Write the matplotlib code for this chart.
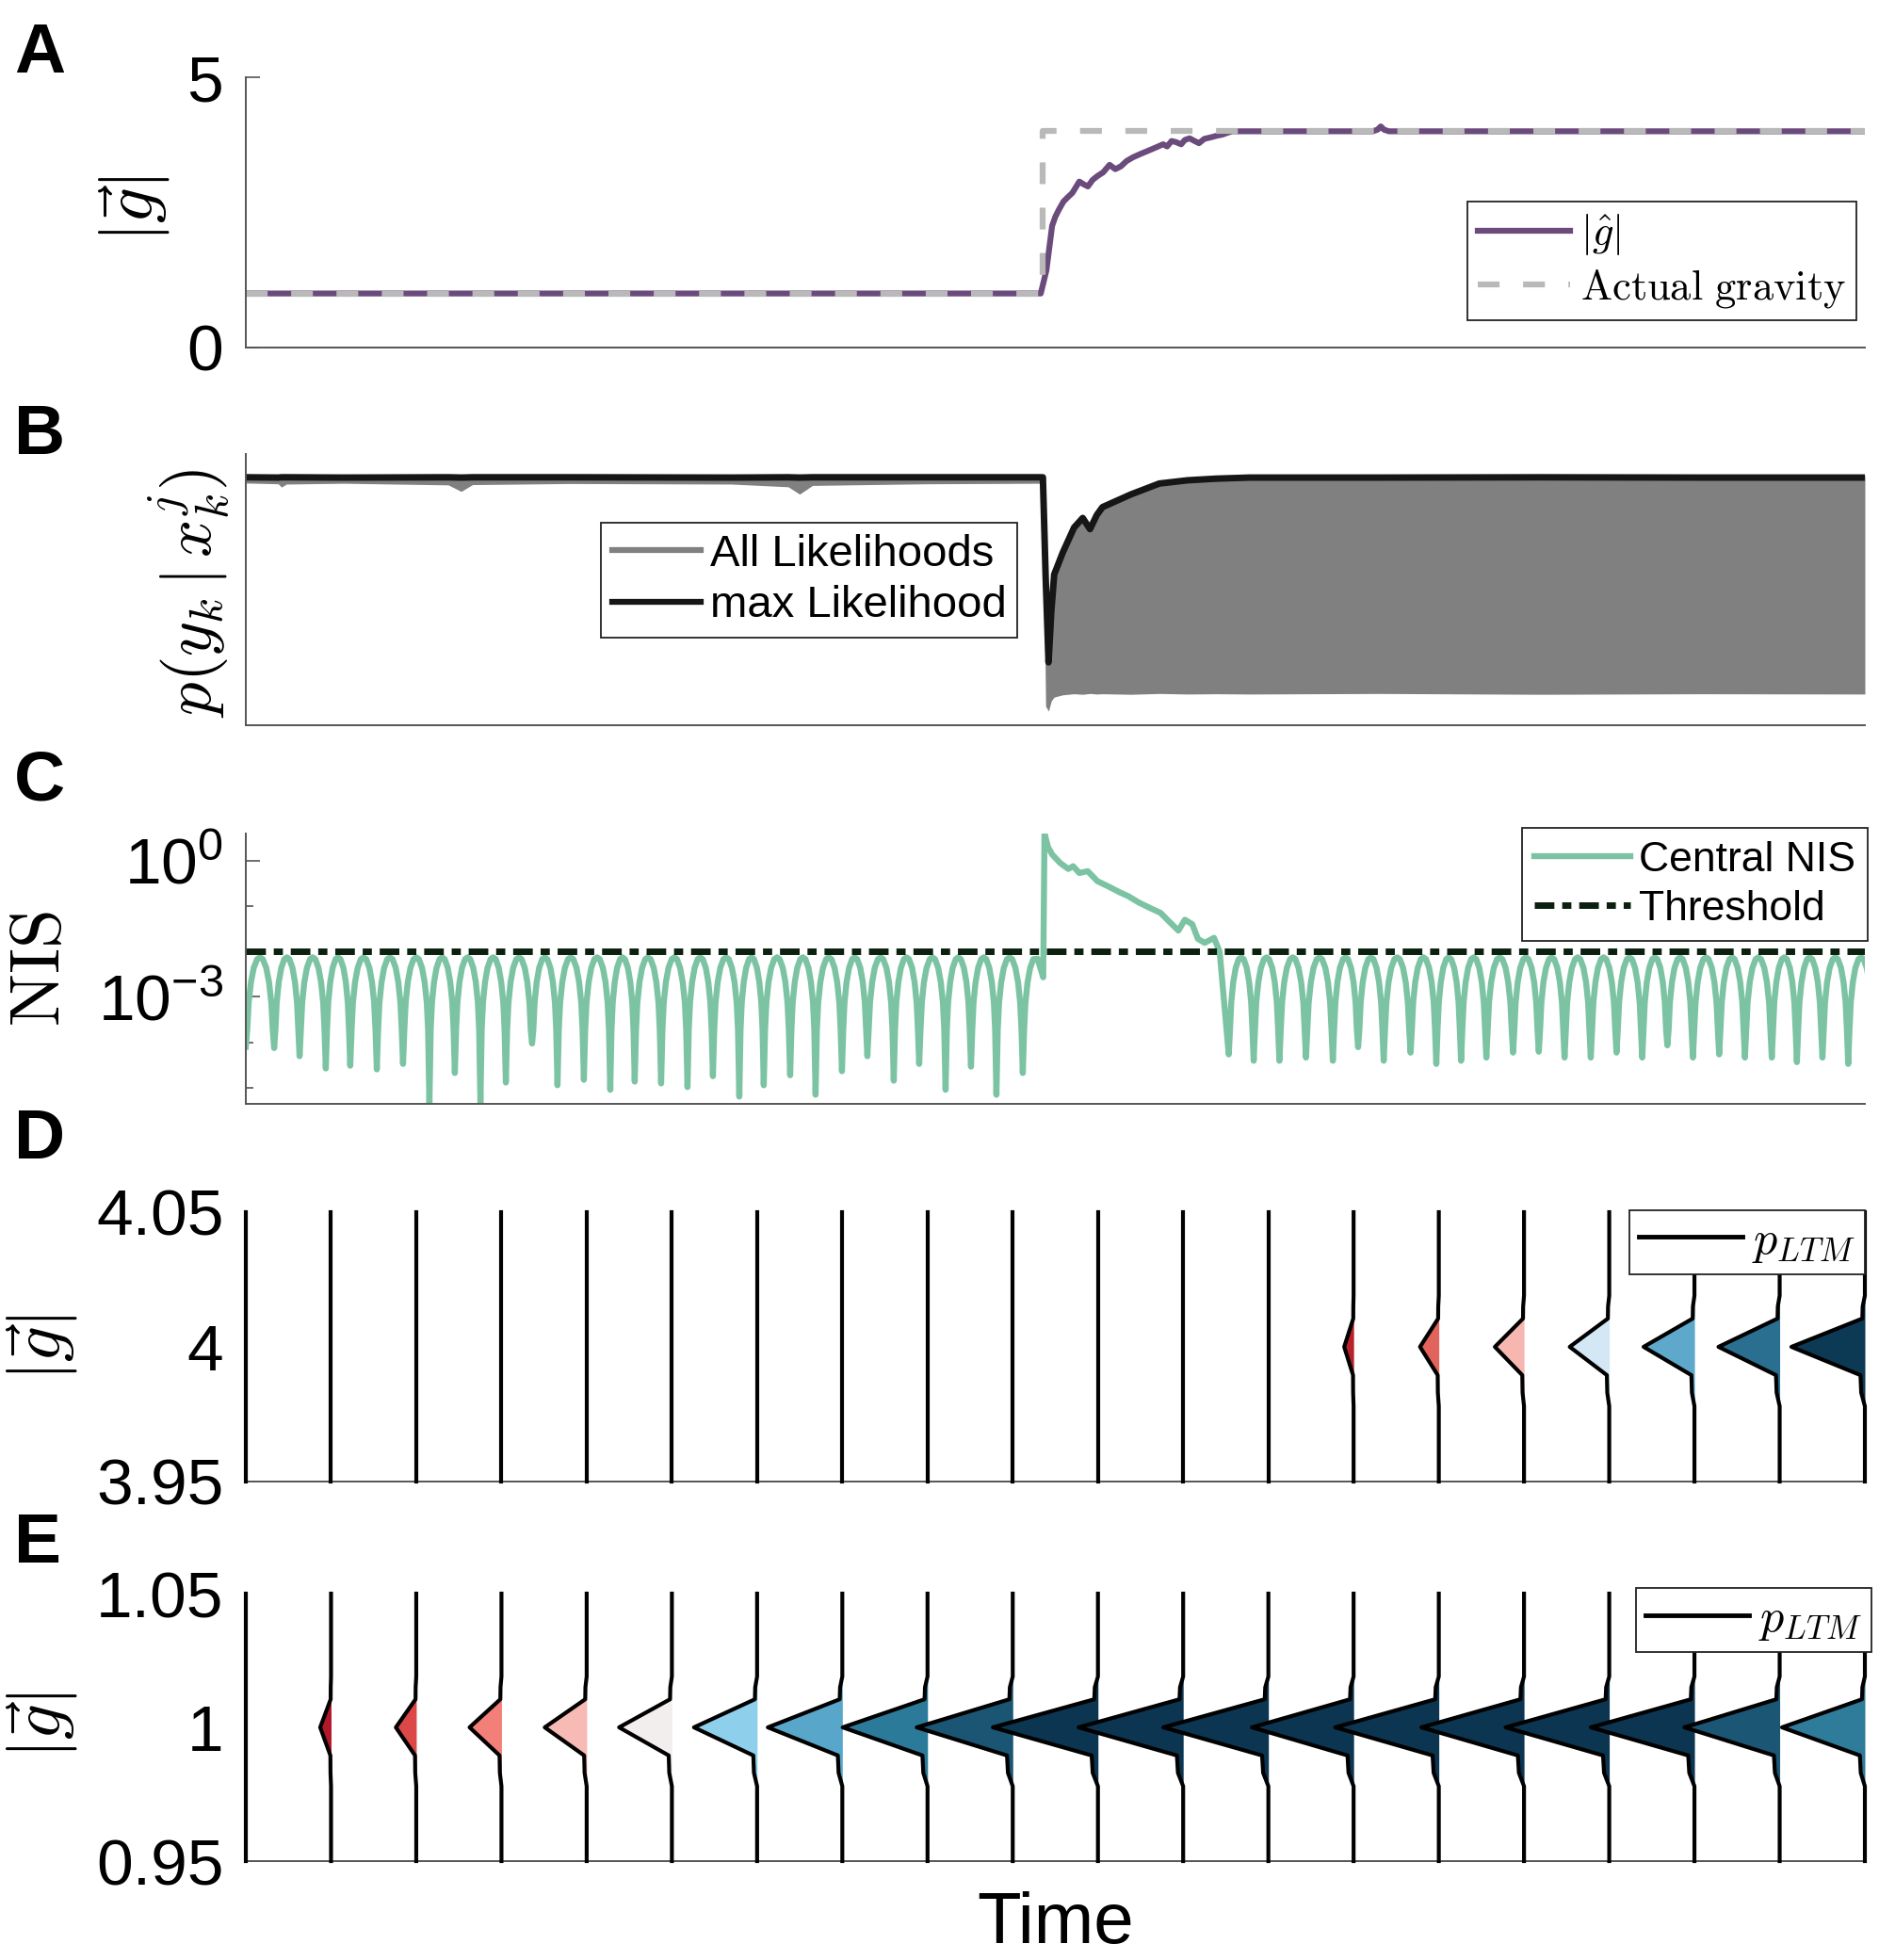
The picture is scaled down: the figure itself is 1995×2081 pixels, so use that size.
import numpy as np
import matplotlib
matplotlib.use("Agg")
import matplotlib.pyplot as plt
from matplotlib.lines import Line2D
from matplotlib.ticker import FixedLocator, NullFormatter

plt.rcParams['font.family'] = ['Liberation Sans', 'DejaVu Sans']
plt.rcParams['mathtext.fontset'] = 'cm'
plt.rcParams['mathtext.rm'] = 'Liberation Sans'
plt.rcParams['mathtext.it'] = 'Liberation Sans:italic'
plt.rcParams['mathtext.bf'] = 'Liberation Sans:bold'

# ---------------- data (time in arbitrary units, 0..1000) ----------------
t_end = 1000

# A: gravity magnitude
t_true = [0, 492, 492, 1000]
g_true = [1, 1, 4, 4]
t_est = [0, 491.0, 494.5, 496.5, 498.0, 500.0, 502.0, 505.0, 507.3, 510.5,
         514.8, 517.5, 520.1, 523.0, 525.9, 529.5, 533.5, 537.0, 540.4, 544.0,
         548.0, 552.5, 557.3, 562.0, 566.6, 569.0, 571.8, 574.5, 577.7, 580.0,
         582.9, 586.0, 588.7, 592.0, 596.3, 600.0, 603.3, 606.0, 609.1, 696.0,
         699.0, 701.0, 703.0, 706.0, 1000]
g_est = [1.0, 1.0, 1.43, 1.9, 2.25, 2.42, 2.54, 2.70, 2.77, 2.86,
         3.07, 3.02, 2.98, 3.10, 3.17, 3.24, 3.38, 3.30, 3.35, 3.45,
         3.52, 3.58, 3.64, 3.70, 3.76, 3.72, 3.82, 3.80, 3.76, 3.84,
         3.87, 3.82, 3.78, 3.86, 3.89, 3.92, 3.94, 3.97, 4.0, 4.0,
         4.03, 4.09, 4.03, 4.0, 4.0]

# B: likelihoods (normalised axis units)
t_lik = [0, 20, 22, 25, 60, 125, 133, 140, 200, 300, 335, 342, 350, 420, 490,
         492.3, 494.0, 495.8, 497.5, 499.3, 504.6, 511.6, 516.9, 521.4, 525.6,
         529.1, 546.7, 564.2, 581.7, 599.2, 620, 700, 800, 900, 1000]
lik_max = [0.914, 0.913, 0.914, 0.914, 0.913, 0.914, 0.913, 0.914, 0.914, 0.913,
           0.914, 0.913, 0.914, 0.914, 0.914,
           0.914, 0.55, 0.232, 0.42, 0.556, 0.637, 0.729, 0.764, 0.723, 0.775,
           0.804, 0.851, 0.891, 0.903, 0.909, 0.913, 0.913, 0.914, 0.913, 0.913]
lik_top = [0.926, 0.925, 0.926, 0.926, 0.925, 0.926, 0.925, 0.926, 0.926, 0.925,
           0.926, 0.925, 0.926, 0.926, 0.926,
           0.922, 0.55, 0.232, 0.42, 0.556, 0.637, 0.729, 0.764, 0.723, 0.775,
           0.804, 0.851, 0.893, 0.907, 0.915, 0.92, 0.921, 0.921, 0.921, 0.921]
lik_low = [0.893, 0.89, 0.878, 0.889, 0.892, 0.886, 0.862, 0.887, 0.891, 0.889,
           0.879, 0.852, 0.884, 0.89, 0.892,
           0.89, 0.07, 0.052, 0.09, 0.104, 0.112, 0.116, 0.114, 0.117, 0.115,
           0.116, 0.114, 0.117, 0.115, 0.116, 0.115, 0.117, 0.114, 0.116, 0.115]

# C: NIS (log10 values)
nis_peak = -2.13
nis_threshold = 1e-2
dip_t_pre = [0, 17.5, 33.2, 49.4, 64.5, 80.9, 97.1, 113.4, 129.1, 144.9, 160.6,
             176.8, 192.5, 208.8, 225.1, 240.2, 256.5, 272.8, 288.5, 304.8, 319.9,
             336.2, 351.9, 368.2, 383.9, 400.2, 415.9, 432.2, 447.9, 463.6, 479.9]
dip_v_pre = [-4.10, -4.13, -4.31, -4.58, -4.52, -4.60, -4.48, -5.36, -4.68, -5.34,
             -4.89, -4.03, -4.95, -4.83, -5.05, -4.87, -4.91, -4.99, -4.75, -5.20,
             -4.95, -4.73, -5.16, -4.64, -4.31, -4.85, -4.48, -5.05, -4.54, -5.16,
             -4.68]
jump_t = [489.0, 492.5, 493.3, 495.5, 498.0, 503.0, 508.0, 511.0, 514.8, 520.0,
          526.0, 533.5, 540.0, 545.0, 551.5, 559.0, 565.0, 570.0, 576.0, 580.0,
          584.6, 588.0, 592.2, 598.0, 601.5]
jump_v = [-2.16, -2.57, 0.60, 0.30, 0.14, -0.05, -0.18, -0.12, -0.27, -0.23,
          -0.45, -0.58, -0.70, -0.78, -0.92, -1.05, -1.15, -1.33, -1.54, -1.30,
          -1.40, -1.72, -1.81, -1.70, -2.01]
dip_t_post = [607.1, 622.5, 638.4, 654.8, 671.4, 687.0, 702.8, 719.4, 735.3, 750.6,
              766.2, 782.7, 798.6, 814.5, 830.7, 846.6, 862.5, 878.0, 893.8, 910.0,
              925.9, 942.5, 958.0, 973.8, 989.7, 1005.6]
dip_v_post = [-4.27, -4.41, -4.41, -4.34, -4.41, -4.11, -4.41, -4.23, -4.48, -4.41,
              -4.34, -4.23, -4.21, -4.34, -4.34, -4.23, -4.34, -4.07, -4.34, -4.27,
              -4.34, -4.34, -4.44, -4.34, -4.48, -4.40]
# shape of one oscillation between two dips (phase, decades below peak)
arch_phase = [0.05, 0.1, 0.18, 0.28, 0.4, 0.5, 0.6, 0.72, 0.82, 0.9, 0.95]
arch_drop = [-1.6, -1.0, -0.55, -0.23, -0.04, 0.0, -0.04, -0.23, -0.55, -1.0, -1.6]

# D/E: long-term-memory distributions at 20 snapshot times
n_snap = 20
ltm4_peak = [0, 0, 0, 0, 0, 0, 0, 0, 0, 0, 0, 0, 0,
             5.8, 11.6, 18.0, 24.4, 31.4, 37.8, 45.4]
ltm4_color = [None] * 13 + ['#b8212c', '#e2625c', '#f7b7b1', '#d3e8f4',
                            '#5ea8cc', '#2a6f8f', '#0c3a55']
ltm1_peak = [0, 6.7, 12.6, 19.7, 25.9, 32.6, 39.0, 46.0, 52.4, 59.3,
             64.9, 64.6, 64.9, 62.8, 64.0, 63.4, 64.0, 64.0, 58.8, 51.2]
ltm1_color = [None, '#b2182b', '#dc4747', '#f27f78', '#f8bab4', '#f3eeee',
              '#8ed0ec', '#58a6c9', '#2c7a9a', '#1a5573',
              '#0b3550', '#0b3550', '#0b3550', '#0b3550', '#0b3550',
              '#0b3550', '#0b3550', '#0b3550', '#1b5674', '#2e7b9a']
prof_dy = [-0.05, -0.022, -0.017, -0.0105, 0.0, 0.0105, 0.015, 0.019, 0.05]
prof_w = [0, 0, 0.05, 0.06, 1.0, 0.035, 0.03, 0, 0]

# ---------------- styling ----------------
W, H = 1995, 2081
L, R = 261, 1980
spine_c = '#555555'
purple = '#6b4a7c'
lgray = '#b9b9b9'
nis_c = '#7cc3a3'
thr_c = '#0b200e'

fig = plt.figure(figsize=(W / 100, H / 100), dpi=100)


def make_axes(top, bottom):
    ax = fig.add_axes([L / W, 1 - bottom / H, (R - L) / W, (bottom - top) / H])
    for s in ['top', 'right']:
        ax.spines[s].set_visible(False)
    for s in ['left', 'bottom']:
        ax.spines[s].set_color(spine_c)
        ax.spines[s].set_linewidth(1.4)
    ax.set_xlim(0, t_end)
    ax.set_xticks([])
    ax.tick_params(axis='y', which='both', direction='in', color=spine_c,
                   width=1.2, labelsize=50, pad=17)
    ax.tick_params(axis='y', which='major', length=11)
    ax.tick_params(axis='y', which='minor', length=6)
    return ax


def style_legend(leg):
    fr = leg.get_frame()
    fr.set_edgecolor('#222222')
    fr.set_linewidth(1.3)
    fr.set_alpha(1)


# ---- A ----
axA = make_axes(82, 369)
axA.plot(t_est, g_est, color=purple, lw=4.5)
axA.plot(t_true, g_true, color=lgray, lw=4.5, linestyle=(0, (3.7, 4.0)))
axA.set_ylim(0, 5)
axA.set_yticks([0, 5])
axA.set_yticklabels(['0', '5'])
hA = [Line2D([], [], color=purple, lw=4.5),
      Line2D([], [], color=lgray, lw=4.5, linestyle=(0, (3.7, 4.0)))]
legA = axA.legend(hA, [r'$|\hat{g}|$', r'$\mathrm{Actual\ gravity}$'],
                  loc='lower right', bbox_to_anchor=(0.995, 0.10), fontsize=32,
                  fancybox=False, handlelength=2.2, handletextpad=0.25,
                  borderpad=0.25, labelspacing=0.25, borderaxespad=0)
style_legend(legA)

# ---- B ----
axB = make_axes(482, 770)
axB.fill_between(t_lik, lik_low, lik_top, color='#808080', lw=0)
axB.plot(t_lik, lik_max, color='#161616', lw=5)
axB.set_ylim(0, 1)
axB.set_yticks([])
hB = [Line2D([], [], color='#808080', lw=4.5), Line2D([], [], color='#161616', lw=4.5)]
legB = axB.legend(hB, ['All Likelihoods', 'max Likelihood'], loc='upper left',
                  bbox_to_anchor=(0.2193, 0.7465), fontsize=34, fancybox=False,
                  handlelength=2.0, handletextpad=0.2, borderpad=0.25,
                  labelspacing=0.22, borderaxespad=0)
style_legend(legB)

# ---- C ----
ts, vs = [], []
for i in range(len(dip_t_pre) - 1):
    ts.append(dip_t_pre[i])
    vs.append(dip_v_pre[i])
    span = dip_t_pre[i + 1] - dip_t_pre[i]
    ts += [dip_t_pre[i] + p * span for p in arch_phase]
    vs += [nis_peak + d for d in arch_drop]
ts.append(dip_t_pre[-1])
vs.append(dip_v_pre[-1])
span = dip_t_pre[-1] - dip_t_pre[-2]
ts += [dip_t_pre[-1] + p * span for p in arch_phase[:5]]
vs += [nis_peak + d for d in arch_drop[:5]]
ts += jump_t
vs += jump_v
for i in range(len(dip_t_post) - 1):
    ts.append(dip_t_post[i])
    vs.append(dip_v_post[i])
    span = dip_t_post[i + 1] - dip_t_post[i]
    ts += [dip_t_post[i] + p * span for p in arch_phase]
    vs += [nis_peak + d for d in arch_drop]
ts.append(dip_t_post[-1])
vs.append(dip_v_post[-1])
nis = 10.0 ** np.array(vs)

axC = make_axes(885, 1172)
axC.plot(ts, nis, color=nis_c, lw=4.6)
thr_ls = (0, (3.0, 1.2, 1.4, 1.2))
axC.axhline(nis_threshold, color=thr_c, lw=5, linestyle=thr_ls)
axC.set_yscale('log')
axC.set_ylim(10 ** -5.36, 10 ** 0.6)
axC.yaxis.set_major_locator(FixedLocator([1e0, 1e-3]))
axC.set_yticklabels([r'$10^{0}$', r'$10^{-3}$'], math_fontfamily='custom')
axC.yaxis.set_minor_locator(FixedLocator([1e-1, 1e-2, 1e-4, 1e-5]))
axC.yaxis.set_minor_formatter(NullFormatter())
hC = [Line2D([], [], color=nis_c, lw=4.6), Line2D([], [], color=thr_c, lw=5, linestyle=thr_ls)]
legC = axC.legend(hC, ['Central NIS', 'Threshold'], loc='upper right',
                  bbox_to_anchor=(1.002, 1.02), fontsize=32, fancybox=False,
                  handlelength=2.3, handletextpad=0.2, borderpad=0.3,
                  labelspacing=0.25, borderaxespad=0)
style_legend(legC)

# ---- D / E ----
snap_t = np.linspace(0, t_end, n_snap)


def ridge_panel(ax, center, peaks, colors):
    for k in range(n_snap):
        tk, w, c = snap_t[k], peaks[k], colors[k]
        xs = [tk - f * w for f in prof_w]
        ys = [center + d for d in prof_dy]
        if w > 0:
            ax.fill_betweenx(ys, xs, tk, color=c, lw=0, zorder=2 + 2 * k)
        ax.plot(xs, ys, color='k', lw=3.0, zorder=3 + 2 * k, clip_on=False)
    ax.set_ylim(center - 0.05, center + 0.05)
    ax.tick_params(axis='y', which='major', length=0)


axD = make_axes(1287, 1573)
ridge_panel(axD, 4.0, ltm4_peak, ltm4_color)
axD.set_yticks([3.95, 4.0, 4.05])
axD.set_yticklabels(['3.95', '4', '4.05'])
legD = axD.legend([Line2D([], [], color='k', lw=3.5)], [r'$p_{LTM}$'], loc='upper right',
                  bbox_to_anchor=(1.0, 1.007), fontsize=36, fancybox=False,
                  handlelength=2.2, handletextpad=0.2, borderpad=0.2, borderaxespad=0)
style_legend(legD)
legD.set_zorder(100)

axE = make_axes(1692, 1976)
ridge_panel(axE, 1.0, ltm1_peak, ltm1_color)
axE.set_yticks([0.95, 1.0, 1.05])
axE.set_yticklabels(['0.95', '1', '1.05'])
legE = axE.legend([Line2D([], [], color='k', lw=3.5)], [r'$p_{LTM}$'], loc='upper right',
                  bbox_to_anchor=(1.004, 1.02), fontsize=36, fancybox=False,
                  handlelength=2.2, handletextpad=0.2, borderpad=0.2, borderaxespad=0)
style_legend(legE)
legE.set_zorder(100)

# ---- labels ----
def fx(x):
    return x / W


def fy(y):
    return 1 - y / H


fig.text(fx(143), fy(222), r'$|\vec{g}|$', rotation=90, ha='center', va='center', fontsize=54)
fig.text(fx(201), fy(630), r'$p(y_k\,|\,x_k^j)$', rotation=90, ha='center', va='center', fontsize=51)
fig.text(fx(44), fy(1029), r'$\mathrm{NIS}$', rotation=90, ha='center', va='center', fontsize=54)
fig.text(fx(45), fy(1431), r'$|\vec{g}|$', rotation=90, ha='center', va='center', fontsize=54)
fig.text(fx(45), fy(1832), r'$|\vec{g}|$', rotation=90, ha='center', va='center', fontsize=54)
fig.text(fx(1121), fy(2063), 'Time', ha='center', va='baseline', fontsize=55)

for letter, y in zip(['A', 'B', 'C', 'D', 'E'], [77, 482, 849, 1230, 1659]):
    fig.text(fx(15), fy(y), letter, ha='left', va='baseline', fontsize=54, fontweight='bold')

fig.savefig('out.png', dpi=100)
